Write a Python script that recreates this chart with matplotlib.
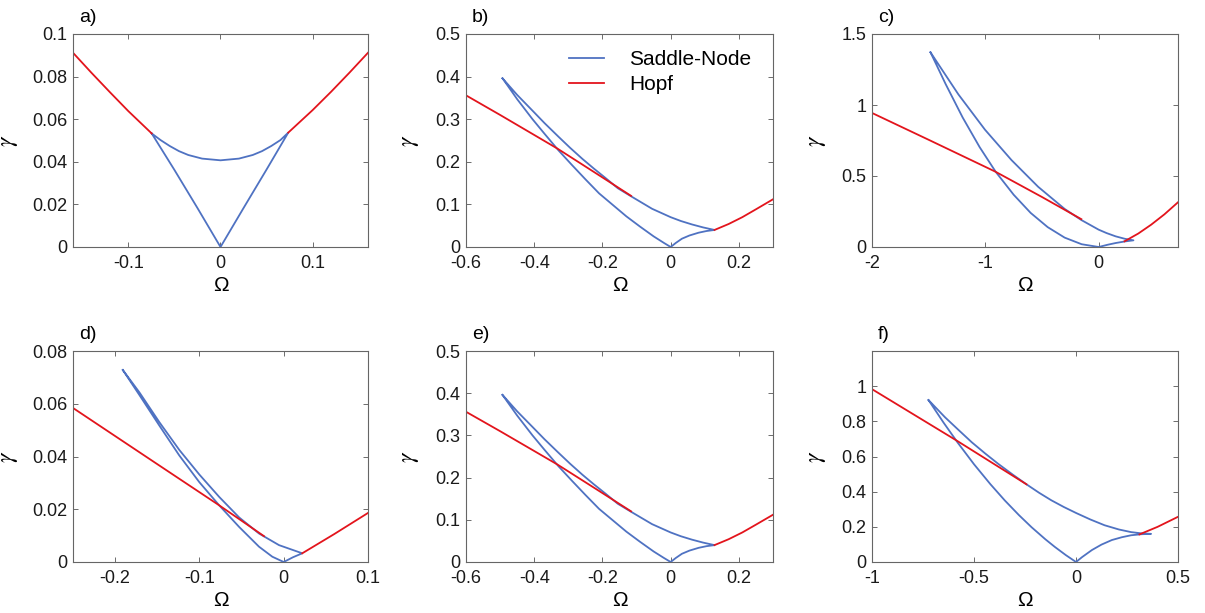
# %%
import matplotlib.pyplot as plt
from matplotlib.ticker import FuncFormatter

plt.rcParams['font.family'] = ['Liberation Sans', 'DejaVu Sans']
plt.rcParams['mathtext.fontset'] = 'stix'
plt.rcParams['axes.unicode_minus'] = False

# %%
# curves (Omega, gamma)
# saddle-node: lower branch -> cusp at origin -> short branch -> upper branch back to tip

# a)
a_sn_om = [-0.0746, -0.05, -0.025, 0, 0.025, 0.05, 0.0735,
           0.065, 0.055, 0.045, 0.035, 0.02, 0, -0.02, -0.035, -0.045, -0.055, -0.065, -0.0746]
a_sn_ga = [0.0533, 0.0362, 0.0183, 0, 0.0183, 0.0364, 0.0537,
           0.0502, 0.0474, 0.0450, 0.0432, 0.0415, 0.0407, 0.0415, 0.0432, 0.0450, 0.0474, 0.0502, 0.0533]
a_hl_om = [-0.16, -0.14, -0.12, -0.10, -0.0746]
a_hl_ga = [0.0912, 0.0818, 0.0727, 0.0638, 0.0533]
a_hr_om = [0.0735, 0.10, 0.12, 0.14, 0.16]
a_hr_ga = [0.0537, 0.0643, 0.0729, 0.0819, 0.0912]

# b) (and e), same curves)
b_sn_om = [-0.493, -0.45, -0.405, -0.37, -0.329, -0.29, -0.25, -0.21, -0.17, -0.13, -0.09, -0.05, -0.02, 0,
           0.015, 0.033, 0.055, 0.082, 0.105, 0.1285,
           0.095, 0.0623, 0.03, 0, -0.0545, -0.116, -0.155, -0.191, -0.225, -0.259, -0.295, -0.329,
           -0.37, -0.405, -0.45, -0.493]
b_sn_ga = [0.396, 0.347, 0.300, 0.266, 0.227, 0.193, 0.159, 0.126, 0.099, 0.072, 0.048, 0.025, 0.0097, 0,
           0.0095, 0.0195, 0.027, 0.0336, 0.0375, 0.040,
           0.046, 0.053, 0.061, 0.070, 0.0897, 0.119, 0.138, 0.162, 0.184, 0.207, 0.233, 0.259,
           0.291, 0.320, 0.357, 0.396]
b_hl_om = [-0.6, -0.5, -0.4, -0.332, -0.25, -0.18, -0.116]
b_hl_ga = [0.356, 0.310, 0.263, 0.231, 0.189, 0.153, 0.120]
b_hr_om = [0.1285, 0.17, 0.21, 0.25, 0.3]
b_hr_ga = [0.040, 0.054, 0.070, 0.0885, 0.112]

# c)
c_sn_om = [-1.484, -1.35, -1.2, -1.05, -0.909, -0.75, -0.6, -0.45, -0.3, -0.15, 0,
           0.08, 0.15, 0.23, 0.307,
           0.23, 0.15, 0.07, 0, -0.153, -0.3, -0.534, -0.769, -1.003, -1.238, -1.484]
c_sn_ga = [1.371, 1.147, 0.912, 0.703, 0.530, 0.368, 0.240, 0.140, 0.066, 0.0195, 0,
           0.016, 0.028, 0.039, 0.047,
           0.058, 0.075, 0.098, 0.122, 0.190, 0.268, 0.424, 0.612, 0.826, 1.075, 1.371]
c_hl_om = [-2, -1.5, -0.91, -0.5, -0.153]
c_hl_ga = [0.944, 0.755, 0.530, 0.352, 0.196]
c_hr_om = [0.228, 0.35, 0.463, 0.58, 0.7]
c_hr_ga = [0.040, 0.095, 0.157, 0.230, 0.315]

# d)
d_sn_om = [-0.1909, -0.1712, -0.1475, -0.1239, -0.1002, -0.0766, -0.0529, -0.0293, -0.0135, 0,
           0.011, 0.022,
           -0.0056, -0.0293, -0.0529, -0.0766, -0.1002, -0.1239, -0.1475, -0.1712, -0.1909]
d_sn_ga = [0.0728, 0.0633, 0.0517, 0.0404, 0.0303, 0.0215, 0.0133, 0.0058, 0.0020, 0,
           0.0018, 0.0033,
           0.0064, 0.0108, 0.0169, 0.0247, 0.0332, 0.0425, 0.0530, 0.0643, 0.0728]
d_hl_om = [-0.25, -0.15, -0.0766, -0.0234]
d_hl_ga = [0.0584, 0.0371, 0.0215, 0.0098]
d_hr_om = [0.022, 0.06, 0.1]
d_hr_ga = [0.0033, 0.0106, 0.0186]

# e)
e_sn_om, e_sn_ga = b_sn_om, b_sn_ga
e_hl_om, e_hl_ga = b_hl_om, b_hl_ga
e_hr_om, e_hr_ga = b_hr_om, b_hr_ga

# f)
f_sn_om = [-0.723, -0.65, -0.58, -0.5, -0.42, -0.349, -0.28, -0.218, -0.15, -0.104, -0.05, 0,
           0.03, 0.078, 0.125, 0.176, 0.225, 0.27, 0.32, 0.368,
           0.32, 0.27, 0.21, 0.14, 0.07, 0, -0.06, -0.121, -0.18, -0.243, -0.31, -0.381,
           -0.445, -0.511, -0.575, -0.642, -0.723]
f_sn_ga = [0.921, 0.794, 0.679, 0.556, 0.443, 0.350, 0.267, 0.198, 0.129, 0.086, 0.0393, 0,
           0.028, 0.068, 0.099, 0.125, 0.141, 0.152, 0.158, 0.160,
           0.163, 0.170, 0.185, 0.209, 0.242, 0.279, 0.313, 0.351, 0.393, 0.442, 0.497, 0.558,
           0.617, 0.681, 0.750, 0.823, 0.921]
f_hl_om = [-1, -0.8, -0.58, -0.4, -0.243]
f_hl_ga = [0.983, 0.842, 0.687, 0.556, 0.442]
f_hr_om = [0.311, 0.40, 0.5]
f_hr_ga = [0.157, 0.20, 0.257]

# %%
blue = '#4f72c2'
red = '#e3141c'

W, H = 1205, 613
fig = plt.figure(figsize=(W / 100, H / 100), dpi=100)

# label, axes box in pixels (left, top, right, bottom), xlim, ylim, xticks, yticks, data, ylabel offset
panels = [
    ('a)', (73, 34, 368, 247), (-0.16, 0.16), (0, 0.1), [-0.1, 0, 0.1], [0, 0.02, 0.04, 0.06, 0.08, 0.1],
     (a_sn_om, a_sn_ga, a_hl_om, a_hl_ga, a_hr_om, a_hr_ga), 53),
    ('b)', (466, 34, 773, 247), (-0.6, 0.3), (0, 0.5), [-0.6, -0.4, -0.2, 0, 0.2], [0, 0.1, 0.2, 0.3, 0.4, 0.5],
     (b_sn_om, b_sn_ga, b_hl_om, b_hl_ga, b_hr_om, b_hr_ga), 45),
    ('c)', (872, 34, 1178, 247), (-2, 0.7), (0, 1.5), [-2, -1, 0], [0, 0.5, 1, 1.5],
     (c_sn_om, c_sn_ga, c_hl_om, c_hl_ga, c_hr_om, c_hr_ga), 44),
    ('d)', (73, 351, 368, 562), (-0.25, 0.1), (0, 0.08), [-0.2, -0.1, 0, 0.1], [0, 0.02, 0.04, 0.06, 0.08],
     (d_sn_om, d_sn_ga, d_hl_om, d_hl_ga, d_hr_om, d_hr_ga), 53),
    ('e)', (466, 351, 773, 562), (-0.6, 0.3), (0, 0.5), [-0.6, -0.4, -0.2, 0, 0.2], [0, 0.1, 0.2, 0.3, 0.4, 0.5],
     (e_sn_om, e_sn_ga, e_hl_om, e_hl_ga, e_hr_om, e_hr_ga), 45),
    ('f)', (872, 351, 1178, 562), (-1, 0.5), (0, 1.2), [-1, -0.5, 0, 0.5], [0, 0.2, 0.4, 0.6, 0.8, 1],
     (f_sn_om, f_sn_ga, f_hl_om, f_hl_ga, f_hr_om, f_hr_ga), 44),
]

fmt = FuncFormatter(lambda v, p: '%g' % v)

for label, box, xl, yl, xt, yt, data, yoff in panels:
    l, t, r, b = box
    ax = fig.add_axes([l / W, 1 - b / H, (r - l) / W, (b - t) / H])
    sn_om, sn_ga, hl_om, hl_ga, hr_om, hr_ga = data
    ax.plot(sn_om, sn_ga, color=blue, lw=1.3, label='Saddle-Node')
    ax.plot(hl_om, hl_ga, color=red, lw=1.3, label='Hopf')
    ax.plot(hr_om, hr_ga, color=red, lw=1.3)
    ax.set_xlim(xl)
    ax.set_ylim(yl)
    ax.set_xticks(xt)
    ax.set_yticks(yt)
    ax.xaxis.set_major_formatter(fmt)
    ax.yaxis.set_major_formatter(fmt)
    ax.tick_params(direction='in', top=True, right=True, length=3.5, width=0.6,
                   color='#555555', labelsize=13, labelcolor='#1a1a1a', pad=4)
    ax.tick_params(axis='x', pad=6)
    for s in ax.spines.values():
        s.set_color('#666666')
        s.set_linewidth(0.8)
    ax.set_xlabel('Ω', fontsize=15, labelpad=3)
    ax.set_ylabel(r'$\gamma$', fontsize=17)
    ax.yaxis.set_label_coords(-yoff / (r - l), 0.5)
    fig.text((l + 6) / W, 1 - (t - 12) / H, label, fontsize=14, va='baseline', ha='left')
    if label == 'b)':
        ax.legend(loc='upper left', bbox_to_anchor=(569 / W, 1 - 50 / H), bbox_transform=fig.transFigure,
                  frameon=False, fontsize=15, handlelength=1.7, handletextpad=1.2,
                  labelspacing=0.3, borderpad=0, borderaxespad=0)

plt.savefig('out.png', dpi=100)
